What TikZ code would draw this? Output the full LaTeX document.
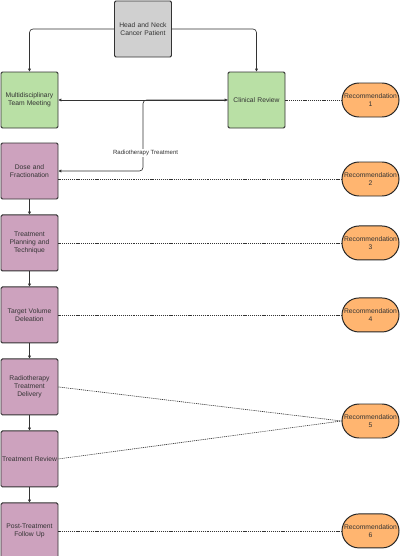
\documentclass[tikz,border=0pt]{standalone}
\usepackage{fontspec}
\setmainfont{Liberation Sans}
\usetikzlibrary{positioning, arrows.meta, shapes.misc}
\definecolor{txtgrey}{HTML}{333333}
\definecolor{boxgrey}{HTML}{D0D0D0}
\definecolor{boxgreen}{HTML}{B9E0A5}
\definecolor{boxpurple}{HTML}{CDA2BE}
\definecolor{boxorange}{HTML}{FFB570}

\begin{document}
\begin{tikzpicture}[
  box/.style={draw=txtgrey, line width=1.4pt, rounded corners=2pt, minimum width=2.85cm, minimum height=2.8cm, text width=2.75cm, align=center, inner sep=1pt, text=txtgrey, font=\fontsize{9.6}{11.3}\selectfont},
  rec/.style={rounded rectangle, draw=black!85, line width=1.4pt, fill=boxorange, minimum width=2.85cm, minimum height=1.7cm, align=center, inner sep=0pt, text=txtgrey, font=\fontsize{9.6}{11.3}\selectfont},
  tip/.tip={Triangle[length=4pt,width=4pt]},
  arr/.style={-tip, draw=txtgrey, line width=0.9pt},
  dots/.style={draw=txtgrey, line width=0.9pt, dash pattern=on 1.5pt off 1.2pt},
  node distance=0.75cm
]
\useasboundingbox (0,0) rectangle (20,-27.8);
% top of the pathway
\node[box, fill=boxgrey] (hnc) at (7.15,-1.45) {Head and Neck\\Cancer Patient};
\node[box, fill=boxgreen] (mdt) at (1.475,-5) {Multidisciplinary\\Team Meeting};
\node[box, fill=boxgreen] (crev) at (12.825,-5) {Clinical Review};
% radiotherapy steps
\node[box, fill=boxpurple] (dose) at (1.475,-8.55) {Dose and\\Fractionation};
\node[box, fill=boxpurple, below=of dose] (plan) {Treatment\\Planning and\\Technique};
\node[box, fill=boxpurple, below=of plan] (tvd) {Target Volume\\Deleation};
\node[box, fill=boxpurple, below=of tvd] (rtd) {Radiotherapy\\Treatment\\Delivery};
\node[box, fill=boxpurple, below=of rtd] (trev) {Treatment Review};
\node[box, fill=boxpurple, below=of trev] (ptf) {Post-Treatment\\Follow Up};
% recommendations
\node[rec] (rec_1) at (18.525,-5) {Recommendation\\1};
\node[rec] (rec_2) at (18.525,-8.95) {Recommendation\\2};
\node[rec] (rec_3) at (rec_1 |- plan) {Recommendation\\3};
\node[rec] (rec_4) at (rec_1 |- tvd) {Recommendation\\4};
\node[rec] (rec_5) at (18.525,-21.05) {Recommendation\\5};
\node[rec] (rec_6) at (rec_1 |- ptf) {Recommendation\\6};

% connectors
\draw[arr, rounded corners=5pt] (hnc.west) -| (mdt.north);
\draw[arr, rounded corners=5pt] (hnc.east) -| (crev.north);
\draw[arr, tip-tip] (mdt) -- (crev);
\coordinate (turn) at (7.15,-8.55);
\draw[arr, rounded corners=5pt] (crev.west) -| (turn) -- (dose.east);
\node[fill=white, inner sep=1pt, text=txtgrey, font=\fontsize{8.6}{10}\selectfont] (rt_lbl) at (7.28,-7.65) {Radiotherapy Treatment};
\foreach \a/\b in {dose/plan, plan/tvd, tvd/rtd, rtd/trev, trev/ptf}
  \draw[arr] (\a) -- (\b);
\draw[dots] (crev.east) -- (rec_1.west);
\draw[dots] ([yshift=-0.4cm]dose.east) -- (rec_2.west);
\draw[dots] (plan.east) -- (rec_3.west);
\draw[dots] (tvd.east) -- (rec_4.west);
\draw[dots] (rtd.east) -- (rec_5.west);
\draw[dots] (trev.east) -- (rec_5.west);
\draw[dots] (ptf.east) -- (rec_6.west);
\end{tikzpicture}
\end{document}
